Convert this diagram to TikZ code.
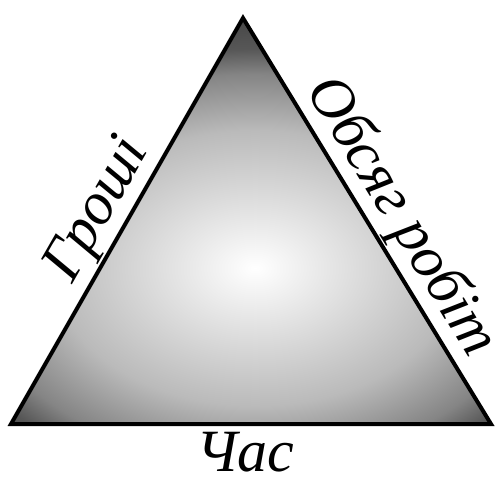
\documentclass[tikz,border=0pt]{standalone}
\usepackage{fontspec}
\setmainfont{Liberation Serif}

\pgfdeclareradialshading{glow}{\pgfpoint{0bp}{0bp}}{color(0bp)=(white); color(11bp)=(black!27); color(15.5bp)=(black!48); color(17.5bp)=(black!66); color(25bp)=(black!85); color(50bp)=(black!85)}

\begin{document}
\begin{tikzpicture}[x=1pt, y=-1pt,
  lbl/.style={font=\fontsize{60}{60}\selectfont\itshape, inner sep=3pt}]
  \useasboundingbox (0,0) rectangle (495,483);
  \coordinate (L) at (11,424);
  \coordinate (T) at (243,18);
  \coordinate (R) at (491,424);
  \begin{scope}
    \clip (L) -- (T) -- (R) -- cycle;
    \shade[shading=glow] (255,268) ellipse (458 and 313);
  \end{scope}
  \draw[line width=4pt] (L) -- (T) -- (R) -- cycle;
  \path (L) -- (T) node[lbl, pos=0.49, sloped, above] (money) {Гроші};
  \path (T) -- (R) node[lbl, pos=0.53, sloped, above] (scope) {Обсяг робіт};
  \path (L) -- (R) node[lbl, midway, below, inner sep=8pt, xshift=-6pt] (time) {Час};
\end{tikzpicture}
\end{document}
